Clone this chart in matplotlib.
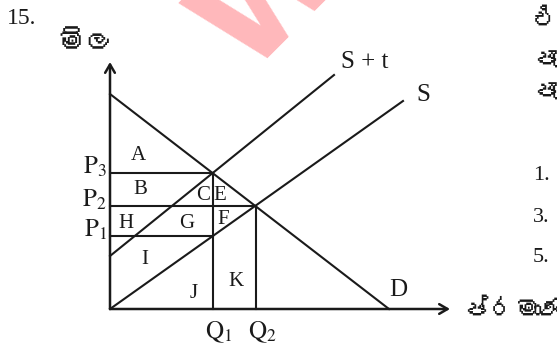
import matplotlib
matplotlib.use("Agg")
import matplotlib.pyplot as plt
from matplotlib import font_manager, ft2font

# supply / demand diagram (question 15), values read in pixel units from the origin
q_marks = [103, 146]          # Q1, Q2
q_names = [r"$\mathrm{Q}_{1}$", r"$\mathrm{Q}_{2}$"]
p_marks = [73, 103, 136]      # P1, P2, P3
p_names = [r"$\mathrm{P}_{1}$", r"$\mathrm{P}_{2}$", r"$\mathrm{P}_{3}$"]

demand_q = [0, 279]
demand_p = [215, 0]
supply_q = [0, 293]
supply_p = [0, 208]
tax_q = [0, 224]
tax_p = [53, 234]

region_names = ["A", "B", "C", "E", "H", "G", "F", "I", "J", "K"]

price_label = "මිල"
qty_label = "ප්රමාණය"


def find_sinhala_font():
    for f in font_manager.fontManager.ttflist:
        try:
            if 0x0DB8 in ft2font.FT2Font(f.fname).get_charmap():
                return f.name
        except Exception:
            pass
    return "DejaVu Sans"


sin_font = [find_sinhala_font(), "DejaVu Sans"]

plt.rcParams["font.family"] = "Liberation Serif"
plt.rcParams["mathtext.fontset"] = "stix"

fig = plt.figure(figsize=(5.57, 3.49), dpi=100)
ax = fig.add_axes([0, 0, 1, 1])
ax.set_xlim(-110, 447)
ax.set_ylim(-40, 309)
ax.axis("off")

lw = 1.5
k = "#1a1a1a"

# axes with open arrow heads
arrow = dict(arrowstyle="->,head_length=0.6,head_width=0.35", lw=lw + 0.3, color=k,
             shrinkA=0, shrinkB=0)
ax.annotate("", xy=(0, 247), xytext=(0, 0), arrowprops=arrow)
ax.annotate("", xy=(340, 0), xytext=(0, 0), arrowprops=arrow)

# curves
ax.plot(demand_q, demand_p, color=k, lw=lw)
ax.plot(supply_q, supply_p, color=k, lw=lw)
ax.plot(tax_q, tax_p, color=k, lw=lw)

# guide lines
ax.plot([0, q_marks[0]], [p_marks[0], p_marks[0]], color=k, lw=lw)
ax.plot([0, q_marks[1]], [p_marks[1], p_marks[1]], color=k, lw=lw)
ax.plot([0, q_marks[0]], [p_marks[2], p_marks[2]], color=k, lw=lw)
ax.plot([q_marks[0], q_marks[0]], [0, p_marks[2]], color=k, lw=lw)
ax.plot([q_marks[1], q_marks[1]], [0, p_marks[1]], color=k, lw=lw)

big = 18
small = 15

for p, name in zip(p_marks, p_names):
    ax.text(-3, p - 1, name, ha="right", va="baseline", fontsize=big, color=k)
for q, name in zip(q_marks, q_names):
    ax.text(q - 8, -10, name, ha="left", va="top", fontsize=big, color=k)

ax.text(231, 241, "S + t", ha="left", va="baseline", fontsize=big, color=k)
ax.text(306, 208, "S", ha="left", va="baseline", fontsize=big, color=k)
ax.text(279, 13, "D", ha="left", va="baseline", fontsize=big, color=k)

region_xy = [(28, 153), (30, 119), (93, 113), (110, 113), (16, 86),
             (77, 86), (113, 89), (35, 49), (84, 16), (126, 27)]
for (x, y), name in zip(region_xy, region_names):
    ax.text(x, y, name, ha="center", va="center", fontsize=small, color=k)

fig.text(7 / 557, 1 - 19 / 349, "15.", ha="left", va="center", fontsize=17, color=k)
ax.text(-24, 265, price_label, ha="center", va="center", fontsize=21, color=k,
        family=sin_font)
ax.text(352, -1, qty_label, ha="left", va="center", fontsize=19, color=k,
        family=sin_font)

# question text cut off at the right edge
for y, s in [(289, "එක"), (249, "පැ"), (217, "පැ")]:
    ax.text(422, y, s, ha="left", va="center", fontsize=19, color=k, family=sin_font)
for y, s in [(133, "1."), (91, "3."), (51, "5.")]:
    ax.text(423, y, s, ha="left", va="center", fontsize=16, color=k)

# pale watermark
fig.text(274 / 557, 1 + 6 / 349, "W", rotation=45, ha="center", va="center",
         fontsize=100, fontweight="bold", color="#ffb8bb", family="DejaVu Sans",
         zorder=0)

fig.savefig("out.png", dpi=100)
